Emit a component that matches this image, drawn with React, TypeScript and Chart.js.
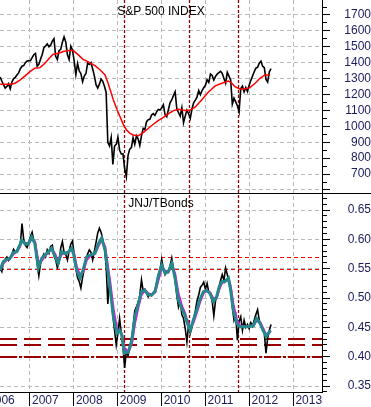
import React, { useEffect, useRef } from 'react';
import { Chart, registerables } from 'chart.js';

Chart.register(...registerables);

// ---------- data ----------
const years = [2006, 2007, 2008, 2009, 2010, 2011, 2012, 2013];
const xMin = 2006.317;
const xMax = 2013.652;

// biweekly samples, first sample late April 2006
const sampleStart = 2006.32;
const sampleStep = 14 / 365.25;

const spxValues = [
  // 2006
  1310, 1285, 1262, 1240, 1250, 1268, 1236, 1278, 1300, 1308, 1322, 1336, 1362, 1378, 1382, 1400, 1410, 1412,
  // 2007
  1412, 1432, 1450, 1458, 1378, 1390, 1421, 1452, 1494, 1505, 1518, 1500, 1510, 1535, 1550, 1440, 1420, 1475, 1484, 1528, 1562, 1530, 1450, 1420, 1504, 1480,
  // 2008
  1411, 1325, 1395, 1349, 1331, 1280, 1316, 1332, 1397, 1389, 1400, 1360, 1317, 1262, 1240, 1265, 1298, 1283, 1252, 1213, 900, 877, 930, 760, 876, 887,
  // 2009
  931, 850, 826, 827, 735, 683, 816, 857, 866, 929, 887, 940, 921, 880, 940, 987, 979, 1029, 1042, 1044, 1071, 1080, 1069, 1091, 1106, 1102,
  // 2010
  1115, 1136, 1073, 1060, 1104, 1149, 1166, 1194, 1217, 1110, 1087, 1064, 1117, 1022, 1064, 1101, 1079, 1050, 1109, 1148, 1165, 1183, 1225, 1199, 1224, 1243,
  // 2011
  1258, 1293, 1276, 1329, 1320, 1290, 1314, 1328, 1337, 1345, 1333, 1300, 1271, 1340, 1316, 1292, 1140, 1177, 1154, 1130, 1090, 1238, 1253, 1216, 1244, 1219,
  // 2012
  1258, 1289, 1316, 1343, 1366, 1371, 1397, 1410, 1378, 1369, 1295, 1278, 1343, 1362,
];

const spxMaDates = [
  2006.32, 2006.58, 2006.66, 2006.77, 2006.89, 2007.0, 2007.11, 2007.23, 2007.34, 2007.46,
  2007.53, 2007.65, 2007.76, 2007.87, 2007.99, 2008.1, 2008.21, 2008.33, 2008.48, 2008.6,
  2008.71, 2008.78, 2008.84, 2008.9, 2008.98, 2009.05, 2009.13, 2009.2, 2009.28, 2009.35,
  2009.47, 2009.58, 2009.7, 2009.81, 2009.92, 2010.04, 2010.15, 2010.27, 2010.38, 2010.53,
  2010.65, 2010.76, 2010.91, 2011.06, 2011.22, 2011.37, 2011.52, 2011.6, 2011.67, 2011.78,
  2011.9, 2012.01, 2012.13, 2012.24, 2012.35, 2012.47,
];
const spxMaValues = [
  1264, 1265, 1271, 1291, 1317, 1344, 1365, 1369, 1396, 1434,
  1453, 1459, 1470, 1476, 1476, 1449, 1421, 1405, 1381, 1354,
  1323, 1271, 1218, 1166, 1107, 1061, 1009, 977, 956, 946,
  941, 960, 988, 1013, 1036, 1057, 1078, 1099, 1107, 1099,
  1103, 1120, 1166, 1214, 1254, 1271, 1285, 1271, 1249, 1235,
  1235, 1243, 1271, 1302, 1323, 1323,
];

const jnjValues = [
  0.55, 0.545, 0.562, 0.566, 0.57, 0.564, 0.568, 0.575, 0.583, 0.578,
  0.58, 0.588, 0.592, 0.627, 0.6, 0.59, 0.586, 0.594, 0.605, 0.612,
  0.598, 0.592, 0.56, 0.538, 0.558, 0.568, 0.575, 0.57, 0.582, 0.576,
  0.588, 0.59, 0.572, 0.565, 0.552, 0.56, 0.585, 0.596, 0.578, 0.574,
  0.565, 0.58, 0.592, 0.597, 0.575, 0.55, 0.535, 0.528, 0.517, 0.535,
  0.55, 0.565, 0.575, 0.582, 0.578, 0.565, 0.58, 0.595, 0.611, 0.619,
  0.612, 0.6, 0.585, 0.555, 0.49, 0.53, 0.505, 0.47, 0.445, 0.42,
  0.44, 0.465, 0.44, 0.418, 0.381, 0.41, 0.402, 0.415, 0.428, 0.45,
  0.478, 0.485, 0.492, 0.505, 0.531, 0.512, 0.515, 0.508, 0.502, 0.507,
  0.504, 0.509, 0.513, 0.525, 0.54, 0.548, 0.566, 0.55, 0.54, 0.546,
  0.545, 0.555, 0.568, 0.55, 0.53, 0.505, 0.485, 0.495, 0.472, 0.465,
  0.448, 0.425, 0.455, 0.44, 0.45, 0.465, 0.478, 0.495, 0.505, 0.518,
  0.522, 0.527, 0.515, 0.525, 0.51, 0.506, 0.495, 0.47, 0.495, 0.505,
  0.518, 0.53, 0.54, 0.53, 0.551, 0.54, 0.53, 0.512, 0.485, 0.462,
  0.47, 0.428, 0.46, 0.468, 0.445, 0.462, 0.45, 0.455, 0.448, 0.458,
  0.452, 0.462, 0.472, 0.48, 0.462, 0.455, 0.448, 0.44, 0.406, 0.432,
  0.445, 0.455,
];

const jnjMaDates = [
  2006.32, 2006.39, 2006.47, 2006.54, 2006.62, 2006.7, 2006.77, 2006.81, 2006.89, 2006.96,
  2007.04, 2007.11, 2007.19, 2007.27, 2007.34, 2007.42, 2007.49, 2007.57, 2007.64, 2007.72,
  2007.8, 2007.87, 2007.95, 2008.0, 2008.06, 2008.14, 2008.21, 2008.29, 2008.37, 2008.48,
  2008.56, 2008.63, 2008.71, 2008.75, 2008.82, 2008.9, 2008.98, 2009.04, 2009.09, 2009.15,
  2009.24, 2009.32, 2009.39, 2009.47, 2009.54, 2009.62, 2009.7, 2009.77, 2009.85, 2009.92,
  2010.0, 2010.08, 2010.15, 2010.23, 2010.3, 2010.38, 2010.46, 2010.53, 2010.57, 2010.65,
  2010.72, 2010.8, 2010.87, 2010.95, 2011.02, 2011.1, 2011.18, 2011.25, 2011.31, 2011.37,
  2011.44, 2011.52, 2011.57, 2011.63, 2011.71, 2011.78, 2011.86, 2011.94, 2012.01, 2012.09,
  2012.16, 2012.24, 2012.31, 2012.38, 2012.43, 2012.48,
];
const jnjFastValues = [
  0.548, 0.562, 0.566, 0.567, 0.578, 0.579, 0.59, 0.599, 0.592, 0.592,
  0.604, 0.593, 0.551, 0.568, 0.573, 0.579, 0.585, 0.571, 0.559, 0.579,
  0.576, 0.578, 0.585, 0.573, 0.548, 0.534, 0.548, 0.57, 0.573, 0.576,
  0.593, 0.602, 0.582, 0.559, 0.519, 0.468, 0.44, 0.445, 0.437, 0.406,
  0.408, 0.428, 0.468, 0.491, 0.511, 0.513, 0.505, 0.505, 0.511, 0.536,
  0.556, 0.542, 0.545, 0.559, 0.536, 0.497, 0.482, 0.471, 0.46, 0.445,
  0.462, 0.48, 0.497, 0.511, 0.513, 0.508, 0.494, 0.502, 0.519, 0.528,
  0.528, 0.534, 0.514, 0.48, 0.457, 0.451, 0.451, 0.451, 0.452, 0.453,
  0.465, 0.457, 0.445, 0.434, 0.44, 0.445,
];
const jnjSlowValues = [
  0.548, 0.559, 0.565, 0.567, 0.575, 0.579, 0.588, 0.597, 0.594, 0.592,
  0.601, 0.596, 0.56, 0.564, 0.572, 0.578, 0.584, 0.575, 0.562, 0.575,
  0.577, 0.578, 0.583, 0.576, 0.554, 0.538, 0.545, 0.565, 0.572, 0.576,
  0.589, 0.6, 0.587, 0.565, 0.529, 0.481, 0.447, 0.444, 0.439, 0.414,
  0.408, 0.423, 0.458, 0.486, 0.506, 0.513, 0.507, 0.505, 0.51, 0.53,
  0.551, 0.546, 0.544, 0.556, 0.542, 0.507, 0.486, 0.474, 0.463, 0.449,
  0.458, 0.476, 0.493, 0.508, 0.513, 0.509, 0.498, 0.5, 0.515, 0.526,
  0.528, 0.533, 0.519, 0.489, 0.463, 0.453, 0.451, 0.451, 0.452, 0.453,
  0.462, 0.459, 0.448, 0.437, 0.439, 0.444,
];

const markerDates = [2009.14, 2010.62, 2011.74];
const jnjDottedLevels = [0.57, 0.55];
const jnjDashedLevels = [0.43, 0.42];
const jnjDashDotLevels = [0.4];

const spxMin = 581;
const spxMax = 1794;
const jnjMin = 0.3398;
const jnjMax = 0.679;

const LABEL_COLOR = '#1c1c60';
const GRID_COLOR = '#b9b9b9';
const FONT = '"Liberation Sans", Arial, sans-serif';

const sampleDate = (i: number) => sampleStart + i * sampleStep;

const overlayPlugin = {
  id: 'overlay',
  beforeDatasetsDraw(chart: any) {
    const { ctx, chartArea, scales } = chart;
    const x = scales.x;
    const y2 = scales.y2;
    ctx.save();
    const hline = (v: number, color: string, width: number, dash: number[]) => {
      let py = y2.getPixelForValue(v);
      py = width % 2 === 1 ? Math.round(py) + 0.5 : Math.round(py);
      ctx.beginPath();
      ctx.strokeStyle = color;
      ctx.lineWidth = width;
      ctx.setLineDash(dash);
      ctx.moveTo(chartArea.left, py);
      ctx.lineTo(chartArea.right, py);
      ctx.stroke();
    };
    jnjDottedLevels.forEach((v) => hline(v, '#ff0000', 1, [4, 3]));
    jnjDashedLevels.forEach((v) => hline(v, '#990000', 2, [17, 7]));
    jnjDashDotLevels.forEach((v) => hline(v, '#990000', 2, [17, 2, 3, 2]));
    markerDates.forEach((d) => {
      const px = Math.round(x.getPixelForValue(d)) + 0.5;
      ctx.beginPath();
      ctx.strokeStyle = '#8b0000';
      ctx.lineWidth = 1.3;
      ctx.setLineDash([3, 2]);
      ctx.moveTo(px, chartArea.top);
      ctx.lineTo(px, chartArea.bottom);
      ctx.stroke();
    });
    ctx.restore();
  },
  afterDraw(chart: any) {
    const { ctx, chartArea, scales } = chart;
    const y1 = scales.y1;
    const y2 = scales.y2;
    ctx.save();
    ctx.setLineDash([]);
    ctx.strokeStyle = '#000';
    ctx.lineWidth = 1;
    const sy = Math.round(y1.bottom) + 0.5;
    ctx.beginPath();
    ctx.moveTo(0, sy);
    ctx.lineTo(chart.width, sy);
    ctx.stroke();
    ctx.fillStyle = '#000';
    ctx.font = '12px ' + FONT;
    ctx.textAlign = 'center';
    ctx.textBaseline = 'alphabetic';
    const cx = (chartArea.left + chartArea.right) / 2;
    ctx.fillText('S&P 500 INDEX', cx, y1.top + 15);
    ctx.fillText('JNJ/TBonds', cx, y2.top + 14);
    ctx.restore();
  },
};

export default function App() {
  const canvasRef = useRef<HTMLCanvasElement | null>(null);

  useEffect(() => {
    const canvas = canvasRef.current;
    if (!canvas) return;
    Chart.defaults.font.family = FONT;
    Chart.defaults.font.size = 12;

    const spxData = spxValues.map((v, i) => ({ x: sampleDate(i), y: v }));
    const jnjData = jnjValues.map((v, i) => ({ x: sampleDate(i), y: v }));
    const spxMaData = spxMaValues.map((v, i) => ({ x: spxMaDates[i], y: v }));
    const jnjFastData = jnjFastValues.map((v, i) => ({ x: jnjMaDates[i], y: v }));
    const jnjSlowData = jnjSlowValues.map((v, i) => ({ x: jnjMaDates[i], y: v }));

    const common = { pointRadius: 0, tension: 0, fill: false, xAxisID: 'x' };

    const chart = new Chart(canvas, {
      type: 'line',
      data: {
        datasets: [
          { ...common, data: spxMaData, yAxisID: 'y1', borderColor: '#ff0000', borderWidth: 1.5 },
          { ...common, data: jnjFastData, yAxisID: 'y2', borderColor: '#238a8a', borderWidth: 3 },
          { ...common, data: jnjSlowData, yAxisID: 'y2', borderColor: '#ff00ff', borderWidth: 2.5 },
          { ...common, data: spxData, yAxisID: 'y1', borderColor: '#000000', borderWidth: 1.6 },
          { ...common, data: jnjData, yAxisID: 'y2', borderColor: '#000000', borderWidth: 1.6 },
        ] as any,
      },
      options: {
        animation: false,
        responsive: false,
        events: [],
        layout: { padding: 0 },
        plugins: {
          legend: { display: false },
          tooltip: { enabled: false },
          title: { display: false },
        },
        scales: {
          x: {
            type: 'linear',
            position: 'bottom',
            min: xMin,
            max: xMax,
            afterBuildTicks: (s: any) => {
              s.ticks = years.map((v) => ({ value: v }));
            },
            afterFit: (s: any) => {
              s.height = 15;
              s.paddingLeft = 0;
              s.paddingRight = 0;
            },
            grid: {
              color: GRID_COLOR,
              lineWidth: 1,
              drawTicks: true,
              tickLength: 14,
              tickColor: '#000',
              tickWidth: 1,
            },
            border: { display: true, color: '#000', width: 1, dash: [4, 3] },
            ticks: {
              autoSkip: false,
              maxRotation: 0,
              minRotation: 0,
              align: 'start',
              labelOffset: 2,
              padding: -13,
              color: LABEL_COLOR,
              font: { size: 12 },
              callback: (v: any) => String(v),
            },
          },
          y1: {
            type: 'linear',
            position: 'right',
            stack: 'panels',
            stackWeight: 193,
            min: spxMin,
            max: spxMax,
            afterBuildTicks: (s: any) => {
              const t = [];
              for (let v = 600; v <= 1750; v += 50) t.push({ value: v });
              s.ticks = t;
            },
            afterFit: (s: any) => {
              s.width = 49;
              s.paddingTop = 0;
              s.paddingBottom = 0;
            },
            grid: {
              color: (c: any) => (c.tick && c.tick.value % 100 === 0 ? GRID_COLOR : 'rgba(0,0,0,0)'),
              lineWidth: 1,
              drawTicks: true,
              tickLength: 8,
              tickColor: '#000',
              tickWidth: 1,
              tickBorderDash: (c: any) => (c.tick && c.tick.value % 100 === 0 ? [] : [4, 40]),
            },
            border: { display: true, color: '#000', width: 1, dash: [4, 3] },
            ticks: {
              autoSkip: false,
              crossAlign: 'far',
              padding: 10,
              color: LABEL_COLOR,
              font: { size: 12 },
              callback: (v: any) => {
                const n = Number(v);
                return n % 100 === 0 && n >= 700 && n <= 1700 ? String(n) : '';
              },
            },
          },
          y2: {
            type: 'linear',
            position: 'right',
            stack: 'panels',
            stackWeight: 199,
            min: jnjMin,
            max: jnjMax,
            afterBuildTicks: (s: any) => {
              const t = [];
              for (let k = 34; k <= 67; k++) t.push({ value: k / 100 });
              s.ticks = t;
            },
            afterFit: (s: any) => {
              s.width = 49;
              s.paddingTop = 0;
              s.paddingBottom = 0;
            },
            grid: {
              color: (c: any) =>
                c.tick && Math.round(c.tick.value * 100) % 5 === 0 ? GRID_COLOR : 'rgba(0,0,0,0)',
              lineWidth: 1,
              drawTicks: true,
              tickLength: 8,
              tickColor: '#000',
              tickWidth: 1,
              tickBorderDash: (c: any) =>
                c.tick && Math.round(c.tick.value * 100) % 5 === 0 ? [] : [4, 40],
            },
            border: { display: true, color: '#000', width: 1, dash: [4, 3] },
            ticks: {
              autoSkip: false,
              crossAlign: 'far',
              padding: 14,
              color: LABEL_COLOR,
              font: { size: 12 },
              callback: (v: any) => {
                const k = Math.round(Number(v) * 100);
                return k % 5 === 0 && k >= 35 && k <= 65 ? (k / 100).toFixed(2) : '';
              },
            },
          },
        },
      } as any,
      plugins: [overlayPlugin],
    });

    return () => {
      chart.destroy();
    };
  }, []);

  return (
    <div style={{ position: 'fixed', left: 0, top: 0, width: 371, height: 407, background: '#fff' }}>
      <canvas ref={canvasRef} width={371} height={407} style={{ display: 'block', width: 371, height: 407 }} />
    </div>
  );
}
